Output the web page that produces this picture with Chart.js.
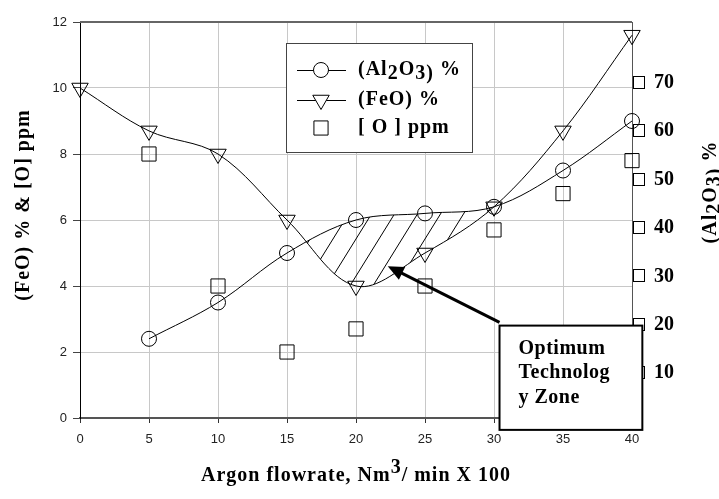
<!DOCTYPE html>
<html lang="en">
<head>
<meta charset="UTF-8">
<title>Argon flowrate vs (FeO), (Al2O3) and [O]</title>
<script src="https://cdn.jsdelivr.net/npm/chart.js"></script>
<style>
  html, body { margin: 0; padding: 0; background: #fff; }
  #wrap { width: 719px; height: 499px; }
</style>
</head>
<body>
<div id="wrap"><canvas id="chart"></canvas></div>
<script>
// data
const flowrate = [0, 5, 10, 15, 20, 25, 30, 35, 40];
const al2o3 = [null, 2.4, 3.5, 5.0, 6.0, 6.2, 6.4, 7.5, 9.0];
const feo = [10, 8.7, 8.0, 6.0, 4.0, 5.0, 6.4, 8.7, 11.6];
const oxygen = [null, 8.0, 4.0, 2.0, 2.7, 4.0, 5.7, 6.8, 7.8];
const leftTicks = [0, 2, 4, 6, 8, 10, 12];
const rightTicks = [10, 20, 30, 40, 50, 60, 70];

// annotation positions (data units)
const zoneRange = [15, 30];
const arrowTail = [30.4, 2.9];
const arrowTip = [22.3, 4.6];
const zoneBox = [30.4, 40.75, 2.8, -0.36];
const zoneText = ['Optimum', 'Technolog', 'y Zone'];

const SERIF = '"Liberation Serif", "Times New Roman", serif';
const SANS = '"Liberation Sans", Arial, sans-serif';

function pts(ys) {
    return flowrate.map((x, i) => ({x: x, y: ys[i]})).filter(p => p.y !== null);
}

// draws text made of parts [text, dy] left to right
function richText(ctx, parts, x, y) {
    let cx = x;
    for (const [t, dy] of parts) {
        ctx.fillText(t, cx, y + dy);
        cx += ctx.measureText(t).width;
    }
}
function richWidth(ctx, parts) {
    return parts.reduce((w, p) => w + ctx.measureText(p[0]).width, 0);
}

const alParts = [['(Al', 0], ['2', 4], ['O', 0], ['3)', 4], [' %', 0]];

function drawHatch(chart) {
    const {ctx, chartArea: a, scales: {x}} = chart;
    const alLine = chart.getDatasetMeta(0).dataset;
    const feLine = chart.getDatasetMeta(1).dataset;
    alLine.updateControlPoints(a, 'x');
    feLine.updateControlPoints(a, 'x');
    const x0 = x.getPixelForValue(zoneRange[0]);
    const x1 = x.getPixelForValue(zoneRange[1]);
    ctx.save();
    ctx.beginPath();
    ctx.rect(x0, a.top, x1 - x0, a.bottom - a.top);
    ctx.clip();
    // under the Al2O3 curve
    const ap = alLine.points;
    ctx.beginPath();
    alLine.path(ctx);
    ctx.lineTo(ap[ap.length - 1].x, a.bottom);
    ctx.lineTo(ap[0].x, a.bottom);
    ctx.closePath();
    ctx.clip();
    // over the FeO curve
    const fp = feLine.points;
    ctx.beginPath();
    feLine.path(ctx);
    ctx.lineTo(fp[fp.length - 1].x, a.top);
    ctx.lineTo(fp[0].x, a.top);
    ctx.closePath();
    ctx.clip();

    ctx.strokeStyle = '#000';
    ctx.lineWidth = 1;
    const h = a.bottom - a.top;
    const slope = 0.62;
    ctx.beginPath();
    for (let bx = a.left + 4 - 23 * 20; bx < a.right; bx += 23) {
        ctx.moveTo(bx, a.bottom);
        ctx.lineTo(bx + h * slope, a.top);
    }
    ctx.stroke();
    ctx.restore();
}

function drawLegend(chart) {
    const ctx = chart.ctx;
    const bx = 286, by = 43, bw = 186, bh = 109;
    ctx.save();
    ctx.fillStyle = '#fff';
    ctx.fillRect(bx, by, bw, bh);
    ctx.strokeStyle = '#444';
    ctx.lineWidth = 1;
    ctx.strokeRect(bx + 0.5, by + 0.5, bw, bh);

    const rows = [
        {y: 70, line: true, style: 'circle', radius: 7.5, rot: 0, text: alParts},
        {y: 100, line: true, style: 'triangle', radius: 9.5, rot: 180, text: [['(FeO) %', 0]]},
        {y: 128, line: false, style: 'rect', radius: 10, rot: 0, text: [['[ O ] ppm', 0]]}
    ];
    ctx.font = 'bold 20px ' + SERIF;
    ctx.letterSpacing = '1px';
    ctx.textBaseline = 'middle';
    ctx.textAlign = 'left';
    for (const r of rows) {
        ctx.strokeStyle = '#000';
        ctx.lineWidth = 1;
        if (r.line) {
            ctx.beginPath();
            ctx.moveTo(297, r.y + 0.5);
            ctx.lineTo(346, r.y + 0.5);
            ctx.stroke();
        }
        ctx.fillStyle = '#fff';
        Chart.helpers.drawPoint(ctx, {pointStyle: r.style, rotation: r.rot, radius: r.radius, borderWidth: 1}, 321, r.y);
        ctx.fillStyle = '#000';
        richText(ctx, r.text, 358, r.y);
    }
    ctx.restore();
}

function drawAnnotations(chart) {
    const {ctx, chartArea: a, scales: {x, y, y2}} = chart;
    ctx.save();

    // top frame line
    ctx.strokeStyle = '#666';
    ctx.lineWidth = 2;
    ctx.beginPath();
    ctx.moveTo(a.left, a.top);
    ctx.lineTo(a.right, a.top);
    ctx.stroke();

    // little squares beside the right-hand tick labels
    ctx.strokeStyle = '#000';
    ctx.lineWidth = 1;
    for (const t of rightTicks) {
        const py = Math.round(y2.getPixelForValue(t));
        ctx.strokeRect(a.right + 1.5, py - 6.5, 11, 12);
    }

    // arrow
    const sx = x.getPixelForValue(arrowTail[0]), sy = y.getPixelForValue(arrowTail[1]);
    const tx = x.getPixelForValue(arrowTip[0]), ty = y.getPixelForValue(arrowTip[1]);
    const ang = Math.atan2(ty - sy, tx - sx);
    const L = 16, W = 7;
    ctx.strokeStyle = '#000';
    ctx.fillStyle = '#000';
    ctx.lineWidth = 3;
    ctx.beginPath();
    ctx.moveTo(sx, sy);
    ctx.lineTo(tx - Math.cos(ang) * L * 0.8, ty - Math.sin(ang) * L * 0.8);
    ctx.stroke();
    ctx.beginPath();
    ctx.moveTo(tx, ty);
    ctx.lineTo(tx - Math.cos(ang) * L + Math.sin(ang) * W, ty - Math.sin(ang) * L - Math.cos(ang) * W);
    ctx.lineTo(tx - Math.cos(ang) * L - Math.sin(ang) * W, ty - Math.sin(ang) * L + Math.cos(ang) * W);
    ctx.closePath();
    ctx.fill();

    // zone box
    const l = x.getPixelForValue(zoneBox[0]), r = x.getPixelForValue(zoneBox[1]);
    const t = y.getPixelForValue(zoneBox[2]), b = y.getPixelForValue(zoneBox[3]);
    ctx.fillStyle = '#fff';
    ctx.fillRect(l, t, r - l, b - t);
    ctx.lineWidth = 2;
    ctx.strokeRect(l, t, r - l, b - t);
    ctx.fillStyle = '#000';
    ctx.font = 'bold 20px ' + SERIF;
    ctx.letterSpacing = '0.5px';
    ctx.textBaseline = 'middle';
    ctx.textAlign = 'left';
    zoneText.forEach((s, i) => ctx.fillText(s, l + 19, t + 23 + i * 24.5));

    // axis titles
    ctx.letterSpacing = '1px';
    const xParts = [['Argon flowrate, Nm', 0], ['3', -8], ['/ min X 100', 0]];
    const xw = richWidth(ctx, xParts);
    richText(ctx, xParts, (a.left + a.right) / 2 - xw / 2, 476);

    const lParts = [['(FeO) % & [O] ppm', 0]];
    ctx.save();
    ctx.translate(24, 205);
    ctx.rotate(-Math.PI / 2);
    richText(ctx, lParts, -richWidth(ctx, lParts) / 2, 0);
    ctx.restore();

    ctx.save();
    ctx.translate(711, 192);
    ctx.rotate(-Math.PI / 2);
    richText(ctx, alParts, -richWidth(ctx, alParts) / 2, 0);
    ctx.restore();

    ctx.restore();
}

const decor = {
    id: 'decor',
    beforeDatasetsDraw(chart) { drawHatch(chart); },
    afterDraw(chart) {
        drawLegend(chart);
        drawAnnotations(chart);
    }
};

function noVPad(s) { s.paddingTop = 0; s.paddingBottom = 0; }

const ctx = document.getElementById('chart').getContext('2d');
new Chart(ctx, {
    type: 'line',
    data: {
        datasets: [
            {
                label: '(Al2O3) %',
                data: pts(al2o3),
                borderColor: '#000',
                borderWidth: 1,
                tension: 0.35,
                pointStyle: 'circle',
                pointRadius: 7.5,
                pointBorderColor: '#000',
                pointBackgroundColor: 'rgba(0,0,0,0)',
                pointBorderWidth: 1,
                clip: false
            },
            {
                label: '(FeO) %',
                data: pts(feo),
                borderColor: '#000',
                borderWidth: 1,
                tension: 0.35,
                pointStyle: 'triangle',
                rotation: 180,
                pointRadius: 9.5,
                pointBorderColor: '#000',
                pointBackgroundColor: 'rgba(0,0,0,0)',
                pointBorderWidth: 1,
                clip: false
            },
            {
                label: '[ O ] ppm',
                data: pts(oxygen),
                showLine: false,
                pointStyle: 'rect',
                pointRadius: 10,
                pointBorderColor: '#000',
                pointBackgroundColor: 'rgba(0,0,0,0)',
                pointBorderWidth: 1,
                clip: false
            }
        ]
    },
    options: {
        responsive: true,
        maintainAspectRatio: false,
        animation: false,
        layout: { padding: { top: 22, left: 0, right: 0, bottom: 0 } },
        plugins: {
            legend: { display: false },
            tooltip: { enabled: false }
        },
        scales: {
            x: {
                type: 'linear',
                min: 0,
                max: 40,
                afterBuildTicks: s => { s.ticks = flowrate.map(v => ({value: v})); },
                afterFit: s => { s.height = 81; s.paddingLeft = 0; s.paddingRight = 0; },
                ticks: { color: '#222', font: { family: SANS, size: 13 }, padding: 9 },
                grid: {
                    color: c => (c.tick && (c.tick.value === 0 || c.tick.value === 40)) ? 'rgba(0,0,0,0)' : '#c8c8c8',
                    tickColor: '#333',
                    tickLength: 5
                },
                border: { color: '#555', width: 2 }
            },
            y: {
                min: 0,
                max: 12,
                afterBuildTicks: s => { s.ticks = leftTicks.map(v => ({value: v})); },
                afterFit: s => { s.width = 80; noVPad(s); },
                ticks: { color: '#222', font: { family: SANS, size: 13 }, padding: 6 },
                grid: {
                    color: c => (c.tick && (c.tick.value === 0 || c.tick.value === 12)) ? 'rgba(0,0,0,0)' : '#c8c8c8',
                    tickColor: '#444',
                    tickLength: 7
                },
                border: { color: '#000', width: 1 }
            },
            y2: {
                position: 'right',
                min: 0.7,
                max: 82.6,
                afterBuildTicks: s => { s.ticks = rightTicks.map(v => ({value: v})); },
                afterFit: s => { s.width = 87; noVPad(s); },
                ticks: { color: '#000', font: { family: SERIF, size: 20, weight: 'bold' }, padding: 22 },
                grid: { drawOnChartArea: false, drawTicks: false },
                border: { color: '#555', width: 1 }
            }
        }
    },
    plugins: [decor]
});
</script>
</body>
</html>
